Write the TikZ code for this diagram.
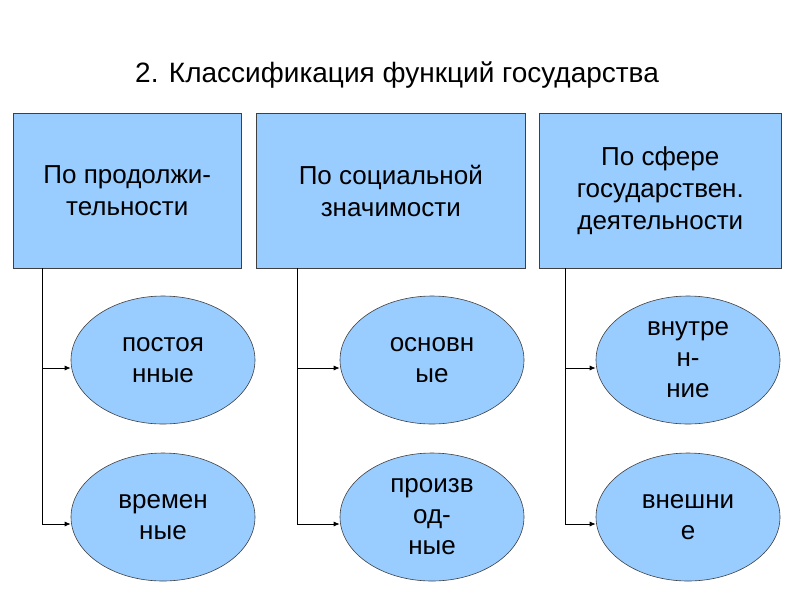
\documentclass[tikz,border=0pt]{standalone}
\usepackage{fontspec}
\setmainfont{Liberation Sans}
\usetikzlibrary{shapes.geometric,arrows.meta}
\definecolor{fillb}{RGB}{153,204,255}
\begin{document}
\begin{tikzpicture}[x=1pt,y=-1pt,
  box/.style={draw=black!75,fill=fillb,line width=0.6pt,minimum width=#1,minimum height=155pt,inner sep=0pt,align=center,font=\fontsize{26}{32}\selectfont,anchor=north west},
  ell/.style={draw=black!75,fill=fillb,ellipse,line width=0.6pt,minimum width=184pt,minimum height=128pt,inner sep=0pt,align=center,font=\fontsize{26}{31}\selectfont},
  conn/.style={line width=0.8pt},
  arr/.style={line width=0.8pt,-{Latex[length=6pt,width=5pt]}}]
\useasboundingbox (0,0) rectangle (794,595);
\fill[white] (0,0) rectangle (794,595);
\node[font=\fontsize{28}{34}\selectfont] (title) at (397,75) {2. Классификация функций государства};
\node[box=228pt] (b1) at (13,113) {По продолжи-\\тельности};
\node[box=269pt] (b2) at (256,113) {По социальной\\значимости};
\node[box=242pt] (b3) at (539,113) {По сфере\\государствен.\\деятельности};
\node[ell] (e11) at (163,360) {постоя\\нные};
\node[ell] (e12) at (163,517) {времен\\ные};
\node[ell] (e21) at (432,360) {основн\\ые};
\node[ell] (e22) at (432,517) {произв\\од-\\ные};
\node[ell] (e31) at (688,360) {внутре\\н-\\ние};
\node[ell] (e32) at (688,517) {внешни\\е};
\foreach \b/\x/\e/\f in {b1/42/e11/e12, b2/297/e21/e22, b3/565/e31/e32}{
  \coordinate (t\b) at (\x,268);
  \coordinate (m\b) at (\x,368);
  \coordinate (l\b) at (\x,524);
  \draw[conn] (t\b) -- (l\b);
  \draw[arr] (m\b) -- (\e.west |- m\b);
  \draw[arr] (l\b) -- (\f.west |- l\b);
}
\end{tikzpicture}
\end{document}
